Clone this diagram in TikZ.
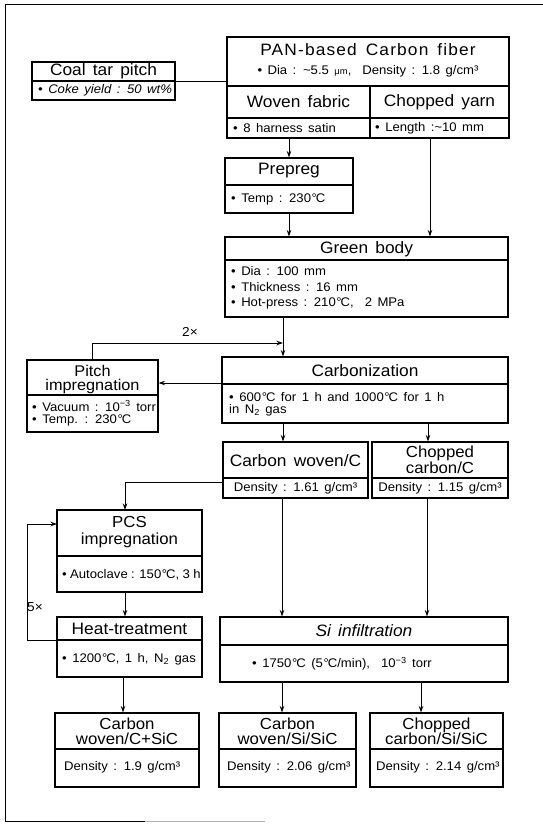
\documentclass[tikz,border=0pt]{standalone}
\usepackage{fontspec}
\setmainfont{Liberation Sans}[FakeStretch=1.05, WordSpace=1.5]
\usetikzlibrary{arrows.meta,fit}
\tikzset{
  box/.style={draw, line width=1.1pt, inner sep=0pt},
  sepline/.style={line width=1.1pt},
  arr/.style={line width=1pt, -{Stealth[length=6.5pt,width=4.5pt]}},
  conn/.style={line width=1pt},
  frameline/.style={line width=1pt},
  ttl/.style={font=\fontsize{16.5}{18.5}\selectfont, inner sep=0pt, align=center},
  sub/.style={font=\fontsize{12.5}{14}\selectfont, inner sep=0pt, anchor=west},
  subc/.style={font=\fontsize{12.5}{14}\selectfont, inner sep=0pt},
  lbl/.style={font=\fontsize{13}{15}\selectfont, inner sep=0pt}
}
\newcommand{\degC}{\kern0.05em°\kern-0.08em C}
\begin{document}
\begin{tikzpicture}[x=1pt,y=-1pt]
\useasboundingbox (0,0) rectangle (543,828);
% frame
\draw[frameline] (543,4) -- (5,4) -- (5,821) -- (145,821);
\draw[frameline, gray!60] (145,821) -- (265,821);

% Coal tar pitch
\node[box, fit={(32,62) (175,100)}] (coal) {};
\draw[sepline] (32,81) -- (175,81);
\node[ttl] (coalt) at (103.5,71.5) {Coal tar pitch};
\node[sub] (coals) at (38,90.5) {\itshape • Coke yield : 50 wt\%};

% PAN-based carbon fiber
\node[box, fit={(227,37) (509,86)}] (pan) {};
\node[box, fit={(227,86) (370,138)}] (woven) {};
\node[box, fit={(370,86) (509,138)}] (chopped) {};
\draw[sepline] (227,118) -- (509,118);
\node[ttl] (pant) at (368,50) {\addfontfeatures{LetterSpace=7}PAN-based Carbon fiber};
\node[subc] (pans) at (368,71) {• Dia : \textasciitilde 5.5 {\fontsize{9}{10}\selectfont μm}, \ Density : 1.8 g/cm³};
\node[ttl] (wovent) at (298.5,102) {Woven fabric};
\node[sub] (wovens) at (233,128) {• 8 harness satin};
\node[ttl] (choppedt) at (439.5,102) {Chopped yarn};
\node[sub] (chopps) at (375,128) {• Length :\textasciitilde 10 mm};

% Prepreg
\node[box, fit={(225,158) (353,213)}] (prepreg) {};
\draw[sepline] (225,185) -- (353,185);
\node[ttl] (prepregt) at (289,171) {Prepreg};
\node[sub] (prepregs) at (231,199) {• Temp : 230\degC};

% Green body
\node[box, fit={(225,237) (508,317)}] (green) {};
\draw[sepline] (225,260) -- (508,260);
\node[ttl] (greent) at (366.5,249) {Green body};
\node[sub] (green1) at (231,271) {• Dia : 100 mm};
\node[sub] (green2) at (231,287) {• Thickness : 16 mm};
\node[sub] (green3) at (231,303) {• Hot-press : 210\degC, \ 2 MPa};

% Carbonization
\node[box, fit={(222,357) (508,423)}] (carb) {};
\draw[sepline] (222,384) -- (508,384);
\node[ttl] (carbt) at (365,371) {Carbonization};
\node[sub] (carb1) at (229,397) {• 600\degC\ for 1 h and 1000\degC\ for 1 h};
\node[sub] (carb2) at (229,410) {in N\textsubscript{2} gas};

% Pitch impregnation
\node[box, fit={(27,360) (158,432)}] (pitch) {};
\draw[sepline] (27,395) -- (158,395);
\node[ttl, font=\fontsize{15.5}{14}\selectfont] (pitcht) at (92.5,379) {Pitch\\impregnation};
\node[sub] (pitch1) at (32,406) {• Vacuum : 10\textsuperscript{−3} torr};
\node[sub] (pitch2) at (32,420) {• Temp. : 230\degC};

% Carbon woven/C
\node[box, fit={(223,442) (368,498)}] (cwc) {};
\draw[sepline] (223,478) -- (368,478);
\node[ttl] (cwct) at (295.5,461) {Carbon woven/C};
\node[subc] (cwcs) at (295.5,488.5) {Density : 1.61 g/cm³};

% Chopped carbon/C
\node[box, fit={(372,442) (508,498)}] (chc) {};
\draw[sepline] (372,478) -- (508,478);
\node[ttl, font=\fontsize{16}{16}\selectfont] (chct) at (440,460) {Chopped\\carbon/C};
\node[subc] (chcs) at (440,488.5) {Density : 1.15 g/cm³};

% PCS impregnation
\node[box, fit={(57,510) (202,592)}] (pcs) {};
\draw[sepline] (57,556) -- (202,556);
\node[ttl, font=\fontsize{16}{17}\selectfont] (pcst) at (129.5,532) {PCS\\impregnation};
\node[sub] (pcss) at (62,575) {\spaceskip=0.27em • Autoclave : 150\degC, 3 h};

% Heat-treatment
\node[box, fit={(57,617) (202,677)}] (heat) {};
\draw[sepline] (57,640) -- (202,640);
\node[ttl] (heatt) at (129.5,628.5) {Heat-treatment};
\node[sub] (heats) at (62,659) {• 1200\degC, 1 h, N\textsubscript{2} gas};

% Si infiltration
\node[box, fit={(220,617) (508,682)}] (si) {};
\draw[sepline] (220,645) -- (508,645);
\node[ttl] (sit) at (364,631) {\itshape Si infiltration};
\node[sub] (sis) at (252,664) {• 1750\degC\ (5\degC/min), \ 10\textsuperscript{−3} torr};

% Bottom products
\node[box, fit={(55,713) (199,787)}] (b1) {};
\draw[sepline] (55,749) -- (199,749);
\node[ttl, font=\fontsize{16}{15}\selectfont] (b1t) at (127,731) {Carbon\\woven/C+SiC};
\node[sub] (b1s) at (64,767) {Density : 1.9 g/cm³};

\node[box, fit={(219,713) (356,787)}] (b2) {};
\draw[sepline] (219,749) -- (356,749);
\node[ttl, font=\fontsize{16}{15}\selectfont] (b2t) at (287.5,731) {Carbon\\woven/Si/SiC};
\node[sub] (b2s) at (227,767) {Density : 2.06 g/cm³};

\node[box, fit={(370,713) (503,787)}] (b3) {};
\draw[sepline] (370,749) -- (503,749);
\node[ttl, font=\fontsize{16}{15}\selectfont] (b3t) at (436.5,731) {Chopped\\carbon/Si/SiC};
\node[sub] (b3s) at (376,767) {Density : 2.14 g/cm³};

% connector coordinates
\coordinate (cy) at (430,138);
\coordinate (gb) at (283,317);
\coordinate (fb) at (283,343);
\coordinate (cl) at (222,383);
\coordinate (c2) at (283,423);
\coordinate (c3) at (428,423);
\coordinate (cw) at (223,482);
\coordinate (pt) at (125,510);
\coordinate (ph) at (125,592);
\coordinate (lb) at (57,640);
\coordinate (lt) at (57,524);
\coordinate (s1) at (282,498);
\coordinate (s2) at (427,498);
\coordinate (h1) at (123,677);
\coordinate (s3) at (282,682);
\coordinate (s4) at (421,682);

% connectors
\draw[conn] (coal.east) -- (coal.east -| pan.west);
\draw[arr] (prepreg.north |- woven.south) -- (prepreg.north);
\draw[arr] (cy) -- (cy |- green.north);
\draw[arr] (prepreg.south) -- (prepreg.south |- green.north);
\draw[arr] (gb) -- (gb |- carb.north);
\draw[arr] (pitch.north) |- (fb);
\node[lbl] (two) at (190,332) {2×};
\draw[arr] (cl) -- (cl -| pitch.east);
\draw[arr] (c2) -- (c2 |- cwc.north);
\draw[arr] (c3) -- (c3 |- chc.north);
\draw[arr] (cw) -| (pt);
\draw[arr] (ph) -- (ph |- heat.north);
\draw[arr] (lb) -- ++(-30,0) |- (lt);
\node[lbl] (five) at (35,607) {5×};
\draw[arr] (s1) -- (s1 |- si.north);
\draw[arr] (s2) -- (s2 |- si.north);
\draw[arr] (h1) -- (h1 |- b1.north);
\draw[arr] (s3) -- (s3 |- b2.north);
\draw[arr] (s4) -- (s4 |- b3.north);
\end{tikzpicture}
\end{document}
